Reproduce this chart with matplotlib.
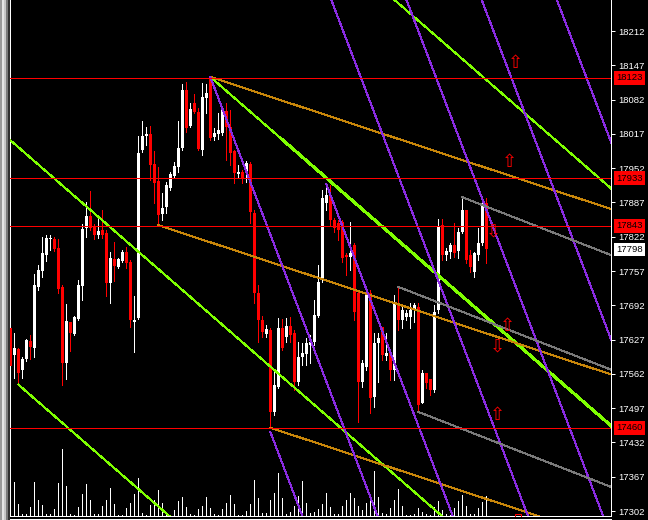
import matplotlib
matplotlib.use("Agg")
import matplotlib.pyplot as plt
from matplotlib.patches import Rectangle
from matplotlib.lines import Line2D

plt.rcParams['font.family'] = 'Liberation Sans'

# candle data (oldest -> newest)
opens = [17649, 17598, 17609, 17570, 17590, 17625, 17611, 17727, 17757, 17788,
         17818, 17818, 17801, 17727, 17583, 17661, 17638, 17666, 17729, 17839,
         17861, 17841, 17826, 17835, 17829, 17734, 17780, 17765, 17776, 17793,
         17774, 17661, 17668, 17986, 18013, 18017, 17960, 17928, 17865, 17879,
         17915, 17937, 17954, 17990, 18100, 18032, 18076, 18059, 17986, 18085,
         18123, 18011, 18017, 18019, 18061, 18030, 17985, 17941, 17945, 17943,
         17960, 17867, 17716, 17664, 17638, 17645, 17490, 17537, 17649, 17632,
         17653, 17640, 17547, 17594, 17600, 17617, 17623, 17672, 17740, 17886,
         17901, 17854, 17848, 17850, 17788, 17784, 17806, 17716, 17547, 17575,
         17716, 17518, 17621, 17651, 17596, 17602, 17570, 17697, 17664, 17670,
         17670, 17683, 17689, 17507, 17564, 17552, 17531, 17683, 17844, 17788,
         17793, 17806, 17795, 17831, 17873, 17788, 17755, 17788, 17810, 17886]
highs = [17655, 17640, 17611, 17594, 17628, 17636, 17752, 17769, 17822, 17826,
         17826, 17822, 17818, 17731, 17695, 17661, 17672, 17740, 17846, 17888,
         17909, 17846, 17860, 17873, 17835, 17793, 17812, 17782, 17797, 17803,
         17778, 17710, 18013, 18042, 18030, 18032, 17985, 17954, 17905, 17926,
         17945, 17964, 18042, 18112, 18115, 18076, 18093, 18066, 18114, 18112,
         18125, 18028, 18057, 18068, 18076, 18062, 17986, 17958, 17949, 17966,
         17964, 17873, 17731, 17672, 17655, 17649, 17570, 17668, 17666, 17668,
         17670, 17645, 17623, 17621, 17630, 17636, 17702, 17769, 17911, 17924,
         17920, 17858, 17854, 17854, 17791, 17850, 17810, 17721, 17588, 17721,
         17721, 17640, 17640, 17651, 17640, 17602, 17712, 17727, 17689, 17683,
         17697, 17697, 17697, 17570, 17564, 17552, 17693, 17856, 17856, 17801,
         17810, 17848, 17839, 17897, 17873, 17797, 17793, 17839, 17892, 17895]
lows = [17566, 17554, 17541, 17554, 17587, 17590, 17594, 17721, 17746, 17776,
        17797, 17795, 17716, 17541, 17552, 17606, 17636, 17664, 17702, 17822,
        17835, 17818, 17820, 17820, 17710, 17697, 17738, 17763, 17774, 17763,
        17651, 17604, 17666, 17983, 17996, 17930, 17886, 17844, 17854, 17867,
        17911, 17935, 17945, 17986, 18021, 18030, 18057, 17986, 17977, 18057,
        18006, 18006, 18008, 18015, 17968, 17958, 17924, 17934, 17924, 17926,
        17848, 17697, 17623, 17632, 17632, 17459, 17484, 17535, 17607, 17623,
        17623, 17531, 17541, 17579, 17579, 17583, 17617, 17670, 17736, 17873,
        17844, 17831, 17816, 17774, 17750, 17759, 17664, 17471, 17537, 17570,
        17488, 17499, 17547, 17588, 17588, 17551, 17551, 17645, 17649, 17664,
        17649, 17661, 17490, 17507, 17535, 17522, 17528, 17678, 17778, 17778,
        17782, 17784, 17782, 17829, 17772, 17755, 17746, 17778, 17806, 17772]
closes = [17577, 17611, 17564, 17590, 17626, 17613, 17731, 17759, 17791, 17820,
          17820, 17799, 17723, 17583, 17662, 17640, 17670, 17731, 17837, 17861,
          17839, 17826, 17833, 17826, 17734, 17782, 17767, 17780, 17793, 17772,
          17664, 17664, 17981, 18013, 18017, 17958, 17924, 17863, 17877, 17920,
          17941, 17956, 17990, 18100, 18028, 18064, 18059, 17988, 18087, 18095,
          18009, 18019, 18025, 18062, 18030, 17981, 17943, 17945, 17934, 17962,
          17869, 17716, 17664, 17642, 17647, 17490, 17541, 17649, 17611, 17653,
          17636, 17547, 17594, 17602, 17621, 17623, 17674, 17736, 17896, 17901,
          17854, 17839, 17835, 17782, 17784, 17791, 17679, 17547, 17583, 17716,
          17516, 17621, 17630, 17598, 17602, 17570, 17697, 17664, 17683, 17678,
          17683, 17693, 17503, 17564, 17545, 17531, 17679, 17841, 17788, 17795,
          17806, 17791, 17831, 17873, 17778, 17765, 17791, 17810, 17880, 17798]
volumes = [330, 340, 120, 20, 20, 90, 340, 160, 110, 20,
           20, 70, 330, 670, 300, 20, 10, 90, 220, 320,
           160, 20, 20, 100, 160, 280, 120, 10, 10, 80,
           130, 220, 380, 30, 10, 110, 160, 260, 130, 10,
           10, 60, 150, 190, 90, 20, 10, 70, 100, 190,
           80, 20, 10, 70, 130, 210, 120, 10, 10, 50,
           120, 360, 180, 30, 30, 160, 230, 430, 180, 20,
           40, 100, 200, 350, 130, 30, 40, 70, 120, 230,
           90, 20, 20, 100, 160, 230, 180, 100, 60, 130,
           220, 450, 190, 30, 20, 80, 160, 270, 100, 10,
           10, 20, 80, 40, 20, 10, 90, 150, 60, 20,
           10, 80, 150, 210, 100, 20, 20, 80, 140, 200]

# horizontal price levels and the current price
level_prices = [18123, 17933, 17843, 17460]
last_price = 17798
tick_prices = list(range(17302, 18213, 65))

# trend objects: (start bar, start price), slope in points per bar
green_anchor = (50, 18125)
green_slope = -6.6
green_offsets = [450, 0, -450, -900]
green_starts = [50, 50, 0, 2]
orange_slope = -2.5
orange_starts = [(50, 18125), (37, 17844), (65, 17460)]
purple_anchor = (50, 18125)
purple_slope = -19.9
purple_step = 18.8
purple_k = [-1, 0, 1, 2, 3, 4, 5]
purple_starts = [65, 50, 79, 70, 85, 100, 120]
gray_slope = -2.95
gray_starts = [(113, 17897), (97, 17727), (102, 17490)]

# signal arrows (bar, price, direction)
arrows = [(126.2, 18151, 'up'), (124.9, 17964, 'up'), (124.2, 17653, 'up'),
          (121.7, 17613, 'down'), (121.7, 17484, 'up'), (120.7, 17831, 'down')]
edge_marker = (126.9, 17290)

W, H = 648, 520
fig = plt.figure(figsize=(W / 100, H / 100), dpi=100, facecolor='black')
rect = [10 / W, 4 / H, 601 / W, 516 / H]
x_lim = (-0.075, 150.2)
y_lim = (17292.6, 18270.8)
px = 0.72  # one pixel in points

# volumes sit in their own axes behind the price
vax = fig.add_axes(rect, zorder=0)
vax.set_facecolor('black')
vax.set_xlim(x_lim)
vax.set_ylim(0, 5160)
vax.vlines(range(len(volumes)), 0, volumes, color='white', lw=px, antialiased=False)
vax.axis('off')

ax = fig.add_axes(rect, zorder=1)
ax.patch.set_alpha(0)
ax.set_xlim(x_lim)
ax.set_ylim(y_lim)

bars = list(range(len(opens)))
colors = ['white' if c >= o else 'red' for o, c in zip(opens, closes)]
bottoms = [min(o, c) for o, c in zip(opens, closes)]
heights = [max(abs(c - o), 1.9) for o, c in zip(opens, closes)]
ax.vlines(bars, lows, highs, colors=colors, lw=px, antialiased=False, zorder=2)
ax.bar(bars, heights, bottom=bottoms, width=0.85, color=colors, lw=0,
       antialiased=False, zorder=3)


def ray(b0, p0, slope, b1=152):
    return [b0, b1], [p0, p0 + slope * (b1 - b0)]


# green channel
for off, start in zip(green_offsets, green_starts):
    p0 = green_anchor[1] + off + green_slope * (start - green_anchor[0])
    xs, ys = ray(start, p0, green_slope)
    ax.plot(xs, ys, color='#7fff00', lw=px, antialiased=False, zorder=5)
xs, ys = ray(68, green_anchor[1] + green_slope * 18, green_slope)
ax.plot(xs, ys, color='#7fff00', lw=2 * px, antialiased=False, zorder=5)

# orange channel
for b0, p0 in orange_starts:
    xs, ys = ray(b0, p0, orange_slope)
    ax.plot(xs, ys, color='#c8860a', lw=px, antialiased=False, zorder=5)

# purple fan
for k, start in zip(purple_k, purple_starts):
    base = purple_anchor[0] + k * purple_step
    p0 = purple_anchor[1] + purple_slope * (start - base)
    xs, ys = ray(start, p0, purple_slope)
    ax.plot(xs, ys, color='#8a2be2', lw=px, antialiased=False, zorder=5)

# gray channel
for b0, p0 in gray_starts:
    xs, ys = ray(b0, p0, gray_slope)
    ax.plot(xs, ys, color='#7a7a7a', lw=px, antialiased=False, zorder=5)

# horizontal levels
for p in level_prices:
    ax.axhline(p, color='red', lw=px, antialiased=False, zorder=6)

for b, p, d in arrows:
    ax.text(b, p, '\u21e7' if d == 'up' else '\u21e9', color='red', fontsize=13,
            family='DejaVu Sans', ha='center', va='center', zorder=7, clip_on=True)
ax.plot([edge_marker[0]], [edge_marker[1]], marker='s', ms=4, mfc='none',
        mec='red', mew=px, clip_on=True, zorder=7)

# price scale
ax.yaxis.tick_right()
ax.set_yticks(tick_prices)
ax.set_yticklabels([str(t) for t in tick_prices])
ax.set_xticks([])
ax.tick_params(axis='y', colors='white', length=3, width=px, pad=2, labelsize=6.8)
for side in ['left', 'right', 'bottom']:
    ax.spines[side].set_color('white')
    ax.spines[side].set_linewidth(px)
ax.spines['top'].set_visible(False)

ytr = ax.get_yaxis_transform()
for p in level_prices:
    ax.text(1.0083, p, str(p), transform=ytr, color='black', fontsize=6.8,
            ha='left', va='center', clip_on=False, zorder=8,
            bbox=dict(boxstyle='square,pad=0.25', fc='red', ec='none'))
ax.text(1.0083, last_price, str(last_price), transform=ytr, color='black', fontsize=6.8,
        ha='left', va='center', clip_on=False, zorder=8,
        bbox=dict(boxstyle='square,pad=0.25', fc='white', ec='none'))

# frame details: second bottom rule and the grey strip on the left
fig.add_artist(Line2D([10 / W, 611 / W], [1.5 / H, 1.5 / H], color='white', lw=px))
for x0, shade in [(0, '#9a9a9a'), (2, '#e6e6e6'), (4, '#c8c8c8'), (6, '#7a7a7a'), (8, '#303030')]:
    fig.add_artist(Rectangle((x0 / W, 0), 2 / W, 1, transform=fig.transFigure,
                             color=shade, lw=0))

fig.savefig('out.png', dpi=100, facecolor='black')
